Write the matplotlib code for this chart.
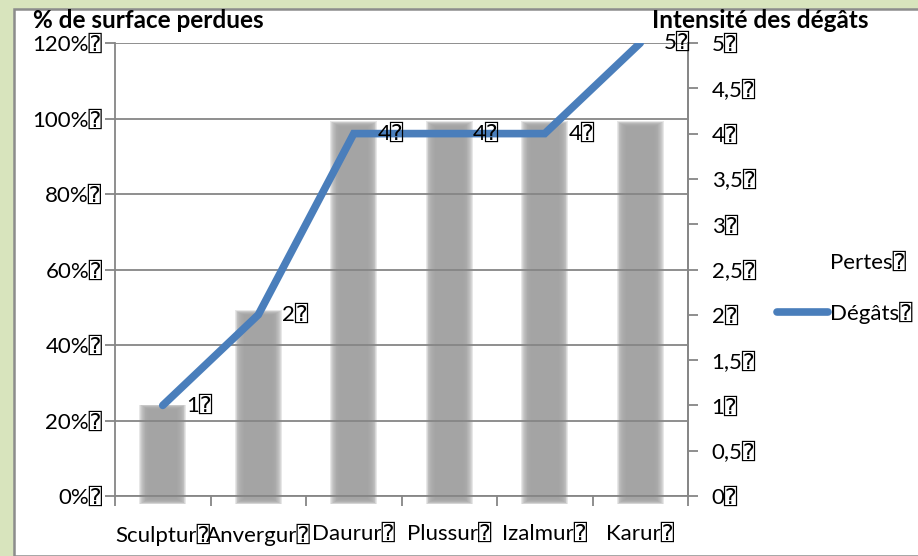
import matplotlib
matplotlib.use("Agg")
import matplotlib.pyplot as plt
import matplotlib.transforms as mtransforms
from matplotlib.patches import Rectangle, Patch
from matplotlib.lines import Line2D

# caractere "boite" qui apparait apres chaque texte dans l'original
BOX = "\u2370"

categories = ["Sculptur", "Anvergur", "Daurur", "Plussur", "Izalmur", "Karur"]
pertes = [0.25, 0.50, 1.00, 1.00, 1.00, 1.00]
degats = [1, 2, 4, 4, 4, 5]
pct_ticks = [0, 0.2, 0.4, 0.6, 0.8, 1.0, 1.2]
deg_ticks = [0, 0.5, 1, 1.5, 2, 2.5, 3, 3.5, 4, 4.5, 5]

FONT = ["Lato", "DejaVu Sans", "DejaVu Sans Mono"]
plt.rcParams["font.family"] = FONT
FS = 16
GRAY = "#868686"
BLUE = "#4a7ebb"

fig = plt.figure(figsize=(9.18, 5.56), dpi=100, facecolor="#d8e4bd")
# cadre blanc du graphique
fig.patches.append(Rectangle((14 / 918, 0), 1, 1 - 9 / 556, transform=fig.transFigure,
                             facecolor="white", edgecolor="#8c8c8c", linewidth=1.8, zorder=-5))

ax = fig.add_axes([115 / 918, 60 / 556, 573 / 918, 453 / 556])
ax.set_facecolor("none")
x = list(range(len(categories)))

# barres "ombre" floues : plusieurs couches transparentes, decalees vers le bas
shadow = ax.transData + mtransforms.ScaledTranslation(0, -4 / 72, fig.dpi_scale_trans)
n = 12
for i in range(n):
    f = (i / (n - 1) - 0.5) * 2
    dh = 0.007 * f
    bars = ax.bar(x, [p + 2 * dh for p in pertes], width=0.39 + 0.1 * f, bottom=-dh,
                  color="#a3a3a3", alpha=0.25, linewidth=0, zorder=1)
    for r in bars:
        r.set_transform(shadow)
        r.set_clip_on(False)

ax.set_xlim(-0.5, len(categories) - 0.5)
ax.set_ylim(0, 1.2)
ax.set_yticks(pct_ticks)
ax.set_yticklabels([f"{int(round(v * 100))}%{BOX}" for v in pct_ticks], fontsize=FS)
ax.set_xticks(x)
ax.set_xticklabels([c + BOX for c in categories], fontsize=FS)
ax.set_xticks([i - 0.5 for i in range(len(categories) + 1)], minor=True)
ax.tick_params(axis="x", which="major", length=0, pad=20)
ax.tick_params(axis="x", which="minor", length=7, color=GRAY, width=1.3, direction="out")
ax.tick_params(axis="y", length=7, color=GRAY, width=1.3, direction="out", pad=2)
ax.yaxis.grid(True, color=GRAY, linewidth=1.3, zorder=2)
ax.set_axisbelow(False)
for s in ["left", "bottom", "right"]:
    ax.spines[s].set_color(GRAY)
    ax.spines[s].set_linewidth(1.3)
ax.spines["top"].set_visible(False)

ax2 = ax.twinx()
ax2.plot(x, degats, color=BLUE, linewidth=5.5, solid_capstyle="round", solid_joinstyle="miter", zorder=3)
ax2.set_ylim(0, 5)
ax2.set_yticks(deg_ticks)
ax2.set_yticklabels([(f"{v:g}".replace(".", ",")) + BOX for v in deg_ticks], fontsize=FS)
ax2.tick_params(axis="y", length=7, color=GRAY, width=1.3, direction="out", pad=10)
for s in ["left", "bottom", "top"]:
    ax2.spines[s].set_visible(False)
ax2.spines["right"].set_color(GRAY)
ax2.spines["right"].set_linewidth(1.3)

for xi, d in zip(x, degats):
    ax2.annotate(f"{d}{BOX}", (xi, d), xytext=(17, 0), textcoords="offset points",
                 ha="left", va="center", fontsize=FS, annotation_clip=False)

fig.text(33 / 918, 1 - 20 / 556, "% de surface perdues", fontsize=17.5, fontweight="bold",
         ha="left", va="center")
fig.text(868 / 918, 1 - 20 / 556, "Intensité des dégâts", fontsize=17.5, fontweight="bold",
         ha="right", va="center")

handles = [Patch(facecolor="none", edgecolor="none"),
           Line2D([], [], color=BLUE, linewidth=5.5, solid_capstyle="round")]
fig.legend(handles, ["Pertes" + BOX, "Dégâts" + BOX], loc="center left",
           bbox_to_anchor=(766 / 918, 1 - 288 / 556), frameon=False, fontsize=FS,
           handlelength=2.3, handletextpad=0.1, labelspacing=1.3, borderpad=0)

fig.savefig("out.png", dpi=100, facecolor=fig.get_facecolor())
